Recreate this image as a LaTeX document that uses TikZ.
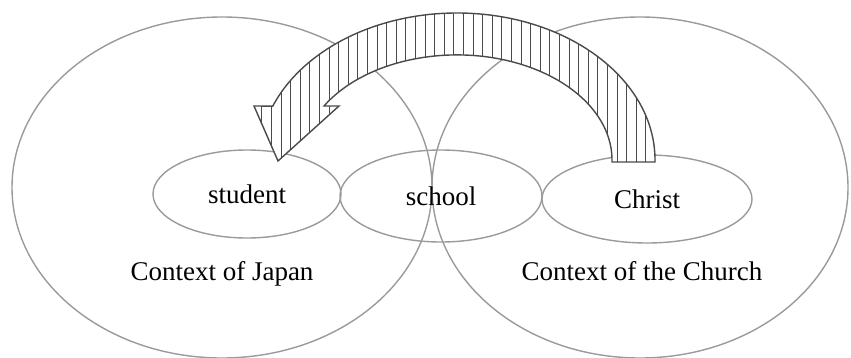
\documentclass[tikz,border=0pt]{standalone}
\usepackage{fontspec}
\setmainfont{Liberation Serif}
\usetikzlibrary{shapes.geometric}

\definecolor{ringgray}{HTML}{9A9A9A}
\definecolor{arrowgray}{HTML}{4A4A4A}
\newcommand{\bandpath}{(655,195) -- (655,197)
    arc[start angle=0, end angle=158.5, x radius=198, y radius=147]
    -- (254,251) -- (278,196) -- (339,251) -- (324,251)
    arc[start angle=149.1, end angle=0, x radius=155, y radius=105]
    -- (612,195) -- cycle}

\begin{document}
\begin{tikzpicture}[
    x=1pt, y=1pt,
    every node/.style={font=\fontsize{27}{32}\selectfont},
    context/.style={ellipse, draw=ringgray, line width=1.4pt, inner sep=0pt},
    item/.style={ellipse, draw=ringgray, line width=1.4pt, inner sep=0pt},
    ctxtext/.style={anchor=base},
    hatch/.style={draw=arrowgray, line width=1pt},
    bigarrow/.style={draw=arrowgray, line width=1.4pt, line join=miter}
  ]

  \useasboundingbox (0,0) rectangle (851,357);

  % --- THE TWO CONTEXTS ---
  \node[context, minimum width=420pt, minimum height=341pt] (japan) at (222,169.5) {};
  \node[context, minimum width=416pt, minimum height=341pt] (church) at (640,169.5) {};

  \node[ctxtext] (japantext) at (222,77) {Context of Japan};
  \node[ctxtext] (churchtext) at (642,77) {Context of the Church};

  % --- INNER ELLIPSES ---
  \node[item, minimum width=188pt, minimum height=88pt] (student) at (247,163) {student};
  \node[item, minimum width=202pt, minimum height=92pt] (school) at (441,161) {school};
  \node[item, minimum width=210pt, minimum height=88pt] (christ) at (647,158) {Christ};

  % --- ARROW (Christ -> student) ---
  \fill[white] \bandpath;
  \begin{scope}
    \clip \bandpath;
    \foreach \hx in {252.2,261.8,...,660}
      \draw[hatch] (\hx,150) -- (\hx,350);
  \end{scope}
  \draw[bigarrow] \bandpath;

\end{tikzpicture}
\end{document}
